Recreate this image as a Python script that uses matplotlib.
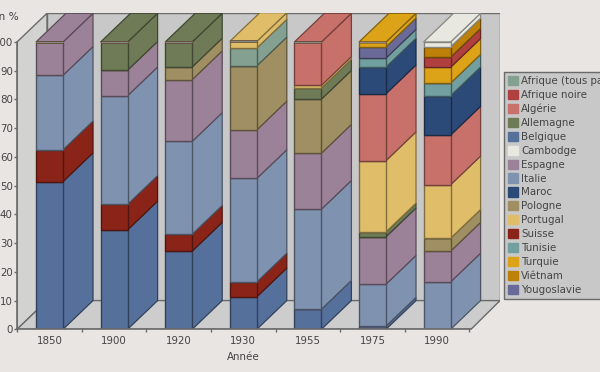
import matplotlib
matplotlib.use('Agg')
import matplotlib.pyplot as plt
from matplotlib.colors import to_rgb
from matplotlib.patches import Patch
import numpy as np

# values, one list per country, bottom to top of the stack
years = ['1850', '1900', '1920', '1930', '1955', '1975', '1990']
belgique = [51.4, 34.6, 27.2, 11.3, 7.0, 1.1, 0]
suisse = [11.1, 8.9, 5.9, 5.2, 0, 0, 0]
italie = [25.9, 37.8, 32.3, 36.0, 34.8, 14.6, 16.5]
espagne = [11.6, 8.9, 21.5, 16.9, 19.5, 16.5, 10.7]
pologne = [0, 0, 4.4, 22.3, 18.8, 0, 4.5]
allemagne = [0, 9.8, 8.7, 0, 3.9, 1.7, 0]
afrique_tous = [0, 0, 0, 6.2, 0, 0, 0]
portugal = [0, 0, 0, 2.3, 0.9, 24.8, 18.6]
algerie = [0, 0, 0, 0, 15.1, 23.3, 17.3]
maroc = [0, 0, 0, 0, 0, 9.3, 13.7]
tunisie = [0, 0, 0, 0, 0, 3.1, 4.4]
yougoslavie = [0, 0, 0, 0, 0, 3.9, 0]
turquie = [0, 0, 0, 0, 0, 1.7, 5.5]
afrique_noire = [0, 0, 0, 0, 0, 0, 3.5]
vietnam = [0, 0, 0, 0, 0, 0, 3.6]
cambodge = [0, 0, 0, 0, 0, 0, 1.7]

stack = [
    ('Belgique', belgique, '#56709c'),
    ('Suisse', suisse, '#8a2418'),
    ('Italie', italie, '#7f93b0'),
    ('Espagne', espagne, '#9c8298'),
    ('Pologne', pologne, '#a08f62'),
    ('Allemagne', allemagne, '#6f7a56'),
    ('Afrique (tous pays)', afrique_tous, '#84a090'),
    ('Portugal', portugal, '#e0bd68'),
    ('Algérie', algerie, '#c8706a'),
    ('Maroc', maroc, '#2c4a78'),
    ('Tunisie', tunisie, '#729fa0'),
    ('Yougoslavie', yougoslavie, '#6a6a98'),
    ('Turquie', turquie, '#dca318'),
    ('Afrique noire', afrique_noire, '#b04040'),
    ('Viêtnam', vietnam, '#bd8008'),
    ('Cambodge', cambodge, '#e8e8e0'),
]
legend_order = ['Afrique (tous pays)', 'Afrique noire', 'Algérie', 'Allemagne', 'Belgique',
                'Cambodge', 'Espagne', 'Italie', 'Maroc', 'Pologne', 'Portugal', 'Suisse',
                'Tunisie', 'Turquie', 'Viêtnam', 'Yougoslavie']

BG = '#e8e5e2'
WALL = '#c8c8c8'
LINE = '#6a6a6a'
TXT = '#444444'

W, H = 600, 372
# plot box in pixels
X0, X1, Y0, Y1 = 17, 500, 329.3, 12.5
PX_X = 64.6   # pixels per category
PX_Y = 2.873  # pixels per percent
DX = 30 / PX_X  # depth of the fake 3d, data units
DY = 10.0
BAR_W = 27 / PX_X

fig = plt.figure(figsize=(W / 100, H / 100), dpi=100, facecolor=BG)
ax = fig.add_axes([X0 / W, 1 - Y0 / H, (X1 - X0) / W, (Y0 - Y1) / H])
ax.patch.set_visible(False)
xmin = (X0 - 49.5) / PX_X
xmax = (X1 - 49.5) / PX_X
xfront = (471 - 49.5) / PX_X
ax.set_xlim(xmin, xmax)
ax.set_ylim(0, (Y0 - Y1) / PX_Y)

# walls and floor
ax.fill([xmin + DX, xmax, xmax, xmin + DX], [DY, DY, 100 + DY, 100 + DY],
        fc=WALL, ec=LINE, lw=1, zorder=1)
ax.fill([xmin, xmin + DX, xmin + DX, xmin], [0, DY, 100 + DY, 100],
        fc='#d2d2d0', ec=LINE, lw=1, zorder=1.1)
ax.fill([xmin, xmin + DX, xmax, xfront], [0, DY, DY, 0],
        fc='#cdcdcd', ec=LINE, lw=1, zorder=1.1)

# bars
x = np.arange(len(years))
bottom = np.zeros(len(years))
for name, vals, col in stack:
    vals = np.array(vals, dtype=float)
    edge = tuple(c * 0.58 for c in to_rgb(col))
    ax.bar(x, vals, BAR_W, bottom=bottom, color=col, edgecolor=edge, linewidth=1, zorder=3)
    for i in x:
        if vals[i] == 0:
            continue
        r = i + BAR_W / 2
        y0, y1 = bottom[i], bottom[i] + vals[i]
        ax.fill([r, r + DX, r + DX, r], [y0, y0 + DY, y1 + DY, y1],
                fc=col, ec=edge, lw=0.9, zorder=2.5)
        # only the band that reaches 100 shows its top face
        if y1 >= 99.9:
            l = i - BAR_W / 2
            ax.fill([l, r, r + DX, l + DX], [y1, y1, y1 + DY, y1 + DY],
                    fc=col, ec=edge, lw=0.9, zorder=2.6)
    bottom += vals

# axes
for s in ['top', 'right']:
    ax.spines[s].set_visible(False)
ax.spines['left'].set_bounds(0, 100)
ax.spines['bottom'].set_bounds(xmin, xfront)
for s in ['left', 'bottom']:
    ax.spines[s].set_color(LINE)
    ax.spines[s].set_linewidth(1.2)
    ax.spines[s].set_zorder(4)
ax.set_yticks(np.arange(0, 101, 10))
ax.set_xticks(x)
ax.set_xticklabels(years)
ax.set_xticks(np.arange(len(years) + 1) - 0.5, minor=True)
ax.tick_params(axis='x', which='major', length=0, pad=5, labelsize=7.4, labelcolor=TXT)
ax.tick_params(axis='x', which='minor', length=2.5, color=LINE, width=1)
ax.tick_params(axis='y', length=2, color=LINE, width=1, pad=1, labelsize=7.4, labelcolor=TXT)
ax.set_xlabel('Année', fontsize=7.4, color=TXT)
ax.xaxis.set_label_coords((243 - X0) / (X1 - X0), -(357 - Y0) / (Y0 - Y1), transform=ax.transAxes)
ax.xaxis.label.set_verticalalignment('center')
fig.text(19 / W, 1 - 17 / H, 'en %', fontsize=7.6, color=TXT, ha='right', va='center')

# legend runs off the right edge like the original
colors = {name: col for name, vals, col in stack}
handles = [Patch(fc=colors[n], ec=colors[n], label=n) for n in legend_order]
leg = ax.legend(handles=handles, loc='upper left', bbox_to_anchor=(504 / W, 1 - 72 / H),
                bbox_transform=fig.transFigure, fontsize=7.4, frameon=True, fancybox=False,
                handlelength=1.0, handleheight=1.0, handletextpad=0.3, labelspacing=0.37,
                borderpad=0.35, borderaxespad=0, labelcolor=TXT)
leg.get_frame().set_facecolor(WALL)
leg.get_frame().set_edgecolor(LINE)
leg.get_frame().set_alpha(1)
leg.set_zorder(6)

fig.savefig('out.png', dpi=100, facecolor=BG)
